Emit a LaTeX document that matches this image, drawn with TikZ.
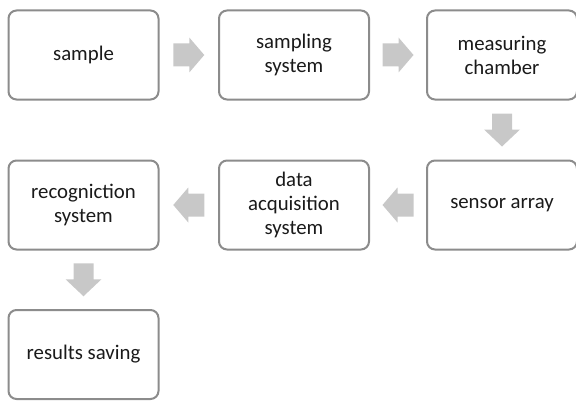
\documentclass[tikz,border=0pt]{standalone}
\usepackage{fontspec}
\setmainfont{Carlito}
\usetikzlibrary{calc}
\definecolor{boxline}{HTML}{8C8C8C}
\definecolor{arrowgray}{HTML}{C8C8C8}
\definecolor{txt}{HTML}{1A1A1A}
\tikzset{
  stagebox/.style={draw=boxline, line width=2pt, rounded corners=8pt, fill=white,
    minimum width=150pt, minimum height=89pt, align=center, text=txt,
    font=\fontsize{20.8pt}{24pt}\selectfont, inner sep=0pt},
  blockarrow/.style={fill=arrowgray, draw=none}
}
\newcommand{\rarrow}[1]{\fill[blockarrow] ($(#1)+(-15.5,-11.5)$) -- ++(16,0) -- ++(0,-6) -- ++(15,17.5) -- ++(-15,17.5) -- ++(0,-6) -- ++(-16,0) -- cycle;}
\newcommand{\larrow}[1]{\fill[blockarrow] ($(#1)+(15.5,-11.5)$) -- ++(-16,0) -- ++(0,-6) -- ++(-15,17.5) -- ++(15,17.5) -- ++(0,-6) -- ++(16,0) -- cycle;}
\newcommand{\darrow}[1]{\fill[blockarrow] ($(#1)+(-10,16.5)$) -- ++(0,-16) -- ++(-8,0) -- ++(18,-17) -- ++(18,17) -- ++(-8,0) -- ++(0,16) -- cycle;}
\begin{document}
\begin{tikzpicture}[x=1pt,y=1pt]
\useasboundingbox (0,0) rectangle (576,400);
\node[stagebox] (sample) at (83.5,345) {sample};
\node[stagebox] (sampling) at (294,345) {sampling\\system};
\node[stagebox] (chamber) at (502,345) {measuring\\chamber};
\node[stagebox] (sensor) at (502,195) {sensor array};
\node[stagebox] (daq) at (294,195) {data\\acquisition\\system};
\node[stagebox] (recog) at (83.5,195) {recogniction\\system};
\node[stagebox] (results) at (83.5,45.5) {results saving};
\path ($(sample.east)!0.5!(sampling.west)$) coordinate (a1);
\path ($(sampling.east)!0.5!(chamber.west)$) coordinate (a2);
\path ($(chamber.south)!0.5!(sensor.north)$) coordinate (a3);
\path ($(sensor.west)!0.5!(daq.east)$) coordinate (a4);
\path ($(daq.west)!0.5!(recog.east)$) coordinate (a5);
\path ($(recog.south)!0.5!(results.north)$) coordinate (a6);
\rarrow{a1}
\rarrow{a2}
\darrow{a3}
\larrow{a4}
\larrow{a5}
\darrow{a6}
\end{tikzpicture}
\end{document}
